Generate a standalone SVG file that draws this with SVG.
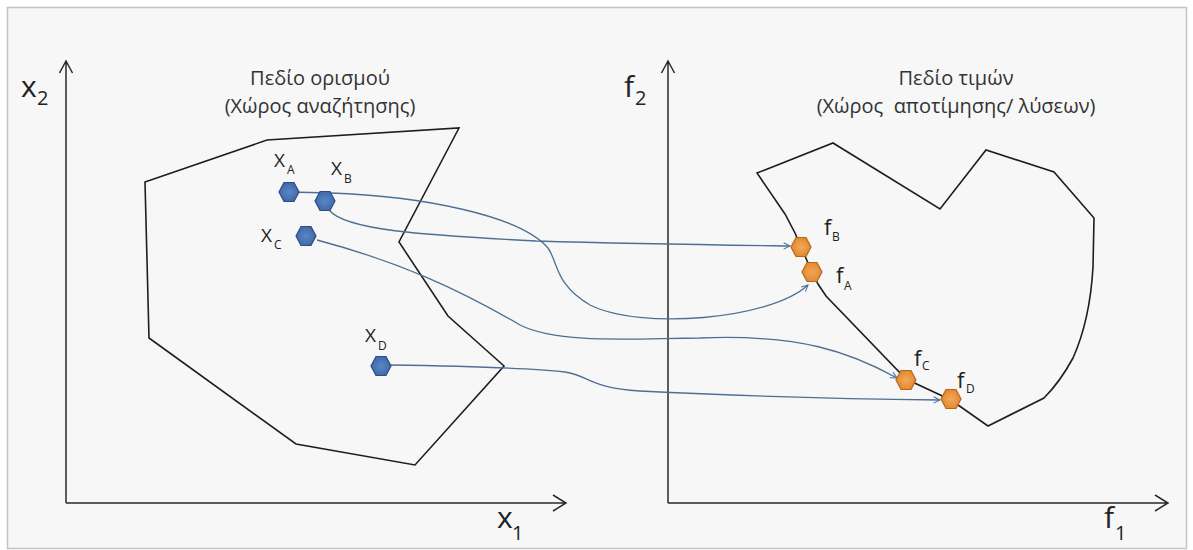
<svg xmlns="http://www.w3.org/2000/svg" width="1193" height="550" viewBox="0 0 1193 550">
<style>
.frame{fill:#f7f7f7;stroke:#c4c4c4;stroke-width:1.5}
.axis{fill:none;stroke:#2a2a2a;stroke-width:1.5}
.region{fill:none;stroke:#1e1e1e;stroke-width:1.6;stroke-linejoin:miter}
.conn{fill:none;stroke:#4d6f94;stroke-width:1.3;marker-end:url(#arr)}
.ttl{font-family:"Open Sans","Noto Sans",sans-serif;font-size:20px;fill:#333;text-anchor:middle}
.ax{font-family:"Open Sans","Noto Sans",sans-serif;font-size:30px;fill:#222}
.axs{font-family:"Open Sans","Noto Sans",sans-serif;font-size:20px;fill:#222}
.lb{font-family:"Open Sans","Noto Sans",sans-serif;font-size:19px;fill:#222}
.lbs{font-family:"Open Sans","Noto Sans",sans-serif;font-size:12px;fill:#222}
.lf{font-family:"Open Sans","Noto Sans",sans-serif;font-size:22px;fill:#222}
.lfs{font-family:"Open Sans","Noto Sans",sans-serif;font-size:12px;fill:#222}
.blue{fill:url(#gb);stroke:#2c4c82;stroke-width:1.2}
.orange{fill:url(#go);stroke:#b5661d;stroke-width:1.2}
</style>
<defs>
<radialGradient id="gb" cx="0.5" cy="0.5" r="0.6"><stop offset="0" stop-color="#5b86c4"/><stop offset="1" stop-color="#3b64a6"/></radialGradient>
<radialGradient id="go" cx="0.5" cy="0.5" r="0.6"><stop offset="0" stop-color="#f3a75a"/><stop offset="1" stop-color="#de8428"/></radialGradient>
<polygon id="hex" points="-10,0 -5,-9.5 5,-9.5 10,0 5,9.5 -5,9.5"/>
<marker id="arr" viewBox="0 0 10 10" refX="9" refY="5" markerWidth="8" markerHeight="8" markerUnits="userSpaceOnUse" orient="auto"><path d="M1,1 L9,5 L1,9" fill="none" stroke="#4d6f94" stroke-width="1.3"/></marker>
</defs>
<rect x="0" y="0" width="1193" height="550" fill="#ffffff"/>
<rect class="frame" x="7.5" y="7.5" width="1179" height="541"/>

<g id="axes-left">
<path class="axis" d="M66,503 V61 M59.5,73 L66,61 L72.5,73 M66,503 H566 M553,495 L566,503 L553,511"/>
<text class="ax" x="21" y="97">x</text><text class="axs" x="37" y="105">2</text>
<text class="ax" x="497" y="528">x</text><text class="axs" x="512" y="540">1</text>
</g>
<g id="axes-right">
<path class="axis" d="M668,503 V61 M661.5,73 L668,61 L674.5,73 M668,503 H1168 M1155,495 L1168,503 L1155,511"/>
<text class="ax" x="624" y="97">f</text><text class="axs" x="635" y="105">2</text>
<text class="ax" x="1104" y="528">f</text><text class="axs" x="1115" y="540">1</text>
</g>

<g id="domain">
<text class="ttl" x="320" y="85">Πεδίο ορισμού</text>
<text class="ttl" x="320" y="113">(Χώρος αναζήτησης)</text>
<polygon class="region" points="145,182 267,140 459,128 399,242 448,316 504,366 415,465 296,444 149,338"/>
</g>
<g id="range">
<text class="ttl" x="956" y="85">Πεδίο τιμών</text>
<text class="ttl" x="956" y="113" xml:space="preserve">(Χώρος  αποτίμησης/ λύσεων)</text>
<path class="region" d="M757,173 L833,143 L940,209 L986,150 L1054,172 L1094,218 L1093,267 Q1090,320 1073,358 Q1060,382 1044,398 L988,426 L951,400 L906,379 L826,296 L818,284 L812,272 L801,247 L795,233 L785,214 Z"/>
</g>

<g id="connectors">
<path class="conn" d="M289,192 L330,193 C420,196 520,215 548,248 C558,262 555,285 590,305 C640,330 770,320 808,285"/>
<path class="conn" d="M329,210 C345,230 420,235 536,241 C640,244 720,245 790,246"/>
<path class="conn" d="M317,240 C400,262 460,290 520,325 C560,345 640,338 700,338 C800,334 850,352 897,378"/>
<path class="conn" d="M390,365 C460,366 530,368 565,372 C590,376 590,388 640,391 C760,397 860,399 940,400"/>
</g>

<g id="node-xa"><use href="#hex" class="blue" x="289" y="192"/><text class="lb" x="274" y="167">X</text><text class="lbs" x="287" y="174">A</text></g>
<g id="node-xb"><use href="#hex" class="blue" x="325" y="201"/><text class="lb" x="331" y="175">X</text><text class="lbs" x="344" y="183">B</text></g>
<g id="node-xc"><use href="#hex" class="blue" x="306" y="236"/><text class="lb" x="261" y="242">X</text><text class="lbs" x="274" y="249">C</text></g>
<g id="node-xd"><use href="#hex" class="blue" x="381" y="366"/><text class="lb" x="365" y="342">X</text><text class="lbs" x="378" y="350">D</text></g>

<g id="node-fb"><use href="#hex" class="orange" x="801" y="247"/><text class="lf" x="824" y="235">f</text><text class="lfs" x="832" y="241">B</text></g>
<g id="node-fa"><use href="#hex" class="orange" x="812" y="272"/><text class="lf" x="836" y="283">f</text><text class="lfs" x="844" y="290">A</text></g>
<g id="node-fc"><use href="#hex" class="orange" x="906" y="380"/><text class="lf" x="914" y="366">f</text><text class="lfs" x="922" y="370">C</text></g>
<g id="node-fd"><use href="#hex" class="orange" x="951" y="399"/><text class="lf" x="957" y="388">f</text><text class="lfs" x="966" y="393">D</text></g>
</svg>
